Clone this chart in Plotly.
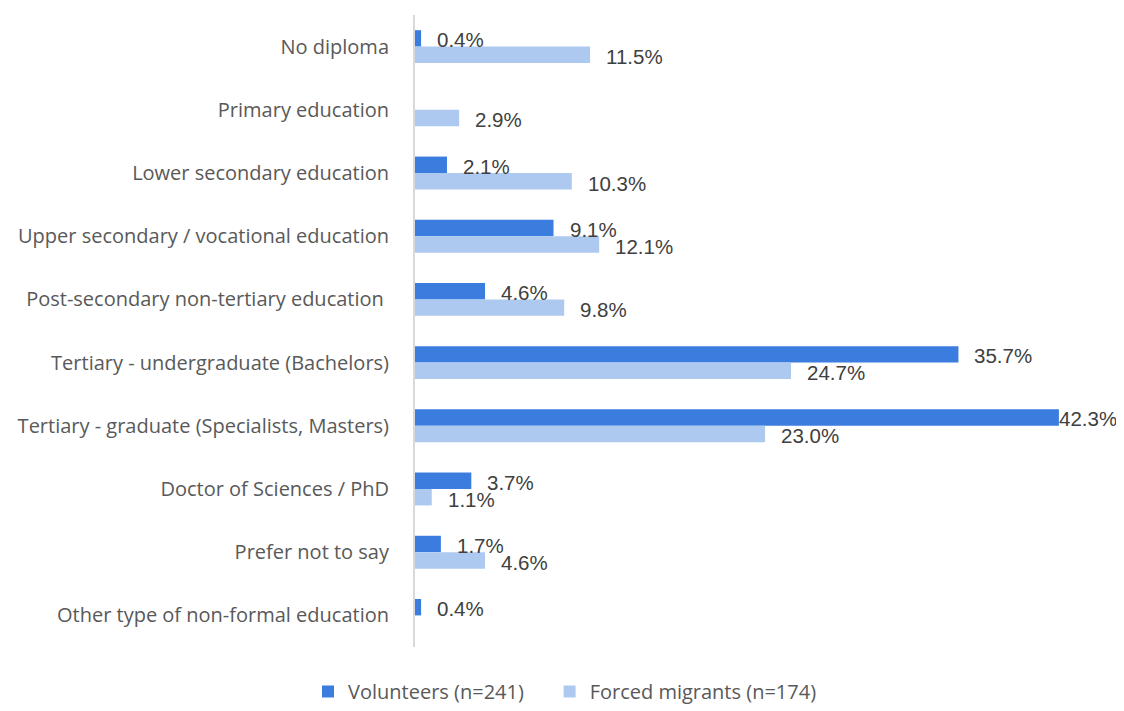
import plotly.graph_objects as go

categories = [
    "No diploma",
    "Primary education",
    "Lower secondary education",
    "Upper secondary / vocational education",
    "Post-secondary non-tertiary education\u00a0",
    "Tertiary - undergraduate (Bachelors)",
    "Tertiary - graduate (Specialists, Masters)",
    "Doctor of Sciences / PhD",
    "Prefer not to say",
    "Other type of non-formal education",
]
volunteers = [0.4, None, 2.1, 9.1, 4.6, 35.7, 42.3, 3.7, 1.7, 0.4]
forced = [11.5, 2.9, 10.3, 12.1, 9.8, 24.7, 23.0, 1.1, 4.6, None]
series_names = ["Volunteers (n=241)", "Forced migrants (n=174)"]

c_vol = "#3A7DDE"
c_for = "#AEC9F0"

W, H = 1116, 703
ML, MR, MT, MB = 407, 24, 7, 64
XMAX = 45.0
px_per = (W - ML - MR) / XMAX

fig = go.Figure()
fig.add_trace(go.Bar(y=categories, x=volunteers, orientation="h",
                     name=series_names[0] + "\u00a0" * 4,
                     marker=dict(color=c_vol, line=dict(width=0))))
fig.add_trace(go.Bar(y=categories, x=forced, orientation="h", name=series_names[1],
                     marker=dict(color=c_for, line=dict(width=0))))

annotations = []
for vals, ys in ((volunteers, 7), (forced, -10)):
    for cat, v in zip(categories, vals):
        if v is None:
            continue
        xs = 15
        if ML + v * px_per + 15 + 60 > W:
            xs = -1
        annotations.append(dict(x=v, y=cat, xref="x", yref="y", text=f"{v:.1f}%",
                                showarrow=False, xanchor="left", yanchor="middle",
                                xshift=xs, yshift=ys, borderpad=0,
                                font=dict(family="Liberation Sans, Arial", size=20.5, color="#404040")))

fig.update_layout(
    width=W, height=H,
    margin=dict(l=ML, r=MR, t=MT, b=MB),
    paper_bgcolor="white", plot_bgcolor="white",
    barmode="group", bargap=0.48, bargroupgap=0,
    annotations=annotations,
    showlegend=True,
    legend=dict(orientation="h", xref="container", x=(565 - 8) / W, xanchor="center",
                yref="container", y=-0.011, yanchor="bottom",
                font=dict(family="Open Sans", size=20, color="#595959"),
                itemwidth=30, tracegroupgap=0),
    xaxis=dict(range=[0, XMAX], visible=False, showgrid=False, zeroline=False),
    yaxis=dict(autorange="reversed", showline=True, linecolor="#D9D9D9", linewidth=2,
               ticks="", ticklabelstandoff=20, showgrid=False,
               tickfont=dict(family="Open Sans", size=20, color="#595959")),
)

fig.write_html("out.html")
